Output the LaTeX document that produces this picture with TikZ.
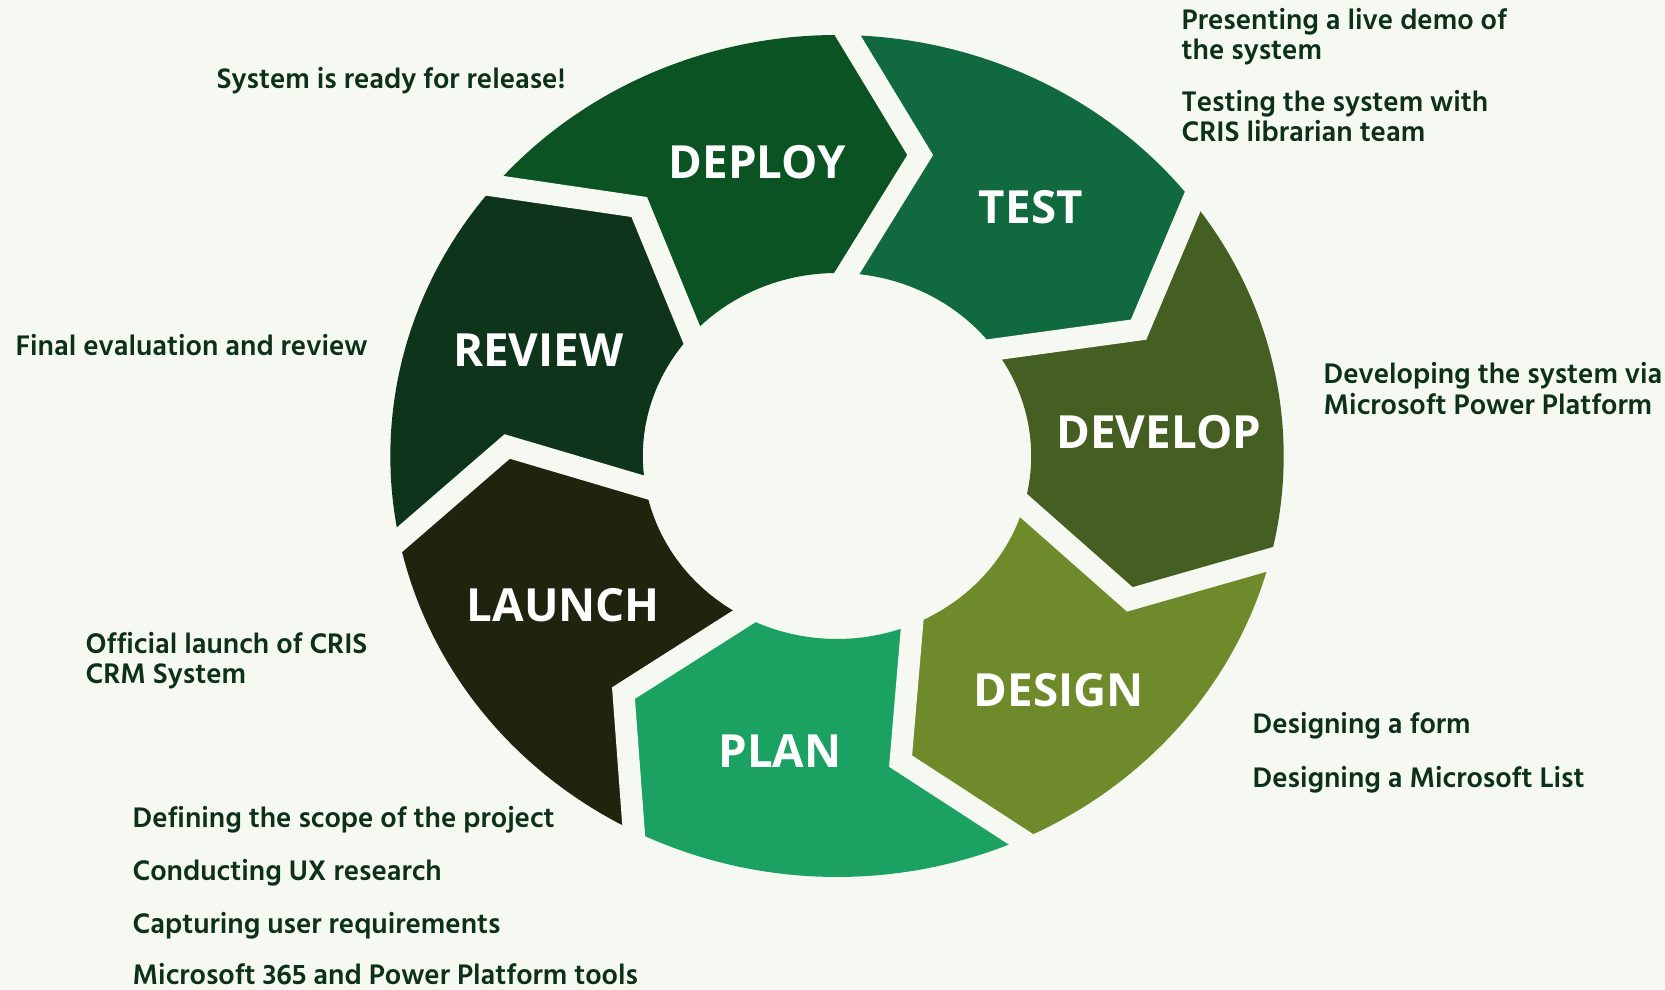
\documentclass[tikz,border=0pt]{standalone}
\usepackage{fontspec}
\usepackage{tikz}
\usetikzlibrary{calc}

\newfontfamily\descfont{Hind Siliguri SemiBold}
\newfontfamily\phasefont{Open Sans}

\definecolor{bgc}{HTML}{F6F9F1}
\definecolor{txtc}{HTML}{0C3019}
\definecolor{testc}{HTML}{116940}
\definecolor{developc}{HTML}{455E22}
\definecolor{designc}{HTML}{6E8A2B}
\definecolor{planc}{HTML}{1BA262}
\definecolor{launchc}{HTML}{1E240E}
\definecolor{reviewc}{HTML}{0E341C}
\definecolor{deployc}{HTML}{0B5323}

\begin{document}
\begin{tikzpicture}[
      x=0.1mm, y=0.1mm,
      phasetext/.style={text=white, inner sep=0pt, font=\phasefont\bfseries\fontsize{13}{13}\selectfont},
      desctext/.style={anchor=base west, text=txtc, inner sep=0pt, font=\descfont\fontsize{8.25}{8.25}\selectfont},
      gapline/.style={draw=bgc, line width=2.2mm, line join=miter}
    ]
      \useasboundingbox (0,0) rectangle (1665,990);
      \fill[bgc] (0,0) rectangle (1665,990);

      \begin{scope}[shift={(837,534)}]
        % Ring segments, clockwise from TEST
        \foreach \col [count=\k from 0] in {testc,developc,designc,planc,launchc,reviewc,deployc} {
          \pgfmathsetmacro\ao{87.85-51.43*\k+0.8}
          \pgfmathsetmacro\ai{87.85-51.43*\k-0.8}
          \pgfmathsetmacro\at{87.85-51.43*\k-12.45}
          \pgfmathsetmacro\bo{\ao-51.43}
          \pgfmathsetmacro\bi{\ai-51.43}
          \pgfmathsetmacro\bt{\at-51.43}
          \fill[\col] (\ao:446.7 and 421)
            arc[start angle=\ao, end angle=\bo, x radius=446.7, y radius=421]
            -- (\bt:330 and 311) -- (\bi:194.2 and 183)
            arc[start angle=\bi, end angle=\ai, x radius=194.2, y radius=183]
            -- (\at:330 and 311) -- cycle;
        }
        % Gaps between segments
        \foreach \k in {0,...,6} {
          \pgfmathsetmacro\ao{87.85-51.43*\k+0.8}
          \pgfmathsetmacro\ai{87.85-51.43*\k-0.8}
          \pgfmathsetmacro\at{87.85-51.43*\k-12.45}
          \coordinate (tip) at (\at:330 and 311);
          \draw[gapline] ($(tip)!1.4!(\ao:446.7 and 421)$) -- (tip)
            -- ($(tip)!1.4!(\ai:194.2 and 183)$);
        }
      \end{scope}

      % Phase labels
      \node[phasetext] (deploy) at (757.5,828.3) {DEPLOY};
      \node[phasetext] (test) at (1030.8,783) {TEST};
      \node[phasetext] (develop) at (1158.8,558.3) {DEVELOP};
      \node[phasetext] (design) at (1058.8,300.3) {DESIGN};
      \node[phasetext] (plan) at (780,238.7) {PLAN};
      \node[phasetext] (launch) at (563.3,385.3) {LAUNCH};
      \node[phasetext] (review) at (538.3,639.7) {REVIEW};

      % Descriptions
      \node[desctext] (deploy1) at (216,901.7) {System is ready for release!};
      \node[desctext] (test1) at (1181,960) {Presenting a live demo of};
      \node[desctext] (test2) at (1181,930) {the system};
      \node[desctext] (test3) at (1181,878) {Testing the system with};
      \node[desctext] (test4) at (1181,848) {CRIS librarian team};
      \node[desctext] (develop1) at (1323,606) {Developing the system via};
      \node[desctext] (develop2) at (1323,575) {Microsoft Power Platform};
      \node[desctext] (design1) at (1252,256.7) {Designing a form};
      \node[desctext] (design2) at (1252,202.7) {Designing a Microsoft List};
      \node[desctext] (plan1) at (132,162.7) {Defining the scope of the project};
      \node[desctext] (plan2) at (132,109.3) {Conducting UX research};
      \node[desctext] (plan3) at (132,56) {Capturing user requirements};
      \node[desctext] (plan4) at (132,5) {Microsoft 365 and Power Platform tools};
      \node[desctext] (launch1) at (85,336.3) {Official launch of CRIS};
      \node[desctext] (launch2) at (85,306) {CRM System};
      \node[desctext] (review1) at (15,634) {Final evaluation and review};

    \end{tikzpicture}
\end{document}
